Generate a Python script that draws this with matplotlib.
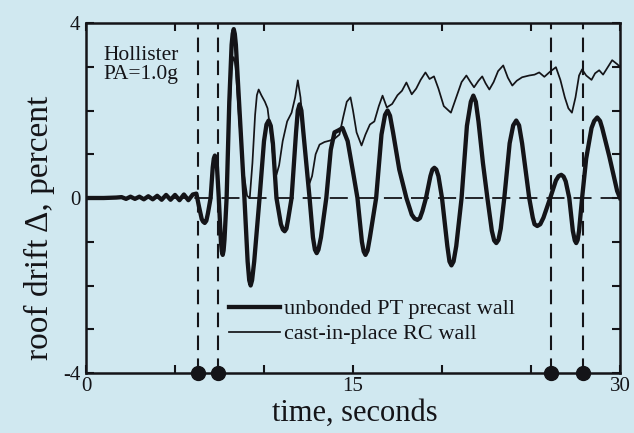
import matplotlib
matplotlib.use("Agg")
import matplotlib.pyplot as plt

# ---- data: (time s, roof drift %) ----
pt_points = [
    (0.0, 0.0), (1.0, 0.0), (1.7, 0.01), (2.0, 0.02), (2.25, -0.02), (2.5, 0.03), (2.75, -0.02),
    (3.0, 0.03), (3.25, -0.03), (3.5, 0.04), (3.75, -0.03), (4.0, 0.05), (4.25, -0.04),
    (4.5, 0.07), (4.75, -0.04), (5.0, 0.07), (5.25, -0.05), (5.5, 0.08), (5.75, -0.05),
    (6.0, 0.08), (6.2, 0.1), (6.35, -0.2), (6.5, -0.48), (6.58, -0.54), (6.67, -0.57),
    (6.76, -0.52), (6.85, -0.35), (7.0, 0.0), (7.12, 0.7), (7.18, 0.9), (7.24, 0.97),
    (7.30, 0.9), (7.36, 0.7), (7.46, 0.0), (7.58, -1.0), (7.63, -1.22), (7.68, -1.3),
    (7.73, -1.2), (7.78, -0.95), (7.9, 0.0), (8.05, 2.2), (8.18, 3.5), (8.24, 3.75),
    (8.3, 3.86), (8.36, 3.75), (8.42, 3.5), (8.6, 2.2), (8.9, 0.0), (9.08, -1.45),
    (9.17, -1.88), (9.25, -2.0), (9.33, -1.88), (9.45, -1.45), (9.75, 0.0), (10.0, 1.3),
    (10.14, 1.68), (10.26, 1.77), (10.38, 1.65), (10.5, 1.25), (10.7, 0.0), (10.95, -0.6),
    (11.06, -0.72), (11.16, -0.76), (11.26, -0.7), (11.35, -0.5), (11.55, 0.0), (11.8, 1.5),
    (11.9, 2.0), (12.0, 2.14), (12.1, 2.0), (12.2, 1.55), (12.56, 0.0), (12.75, -0.9),
    (12.86, -1.18), (12.96, -1.26), (13.06, -1.18), (13.2, -0.9), (13.5, 0.0), (13.75, 1.1),
    (13.96, 1.5), (14.2, 1.55), (14.41, 1.6), (14.7, 1.3), (15.0, 0.6), (15.25, 0.0),
    (15.5, -1.0), (15.6, -1.22), (15.7, -1.3), (15.82, -1.2), (15.95, -0.9), (16.3, 0.0),
    (16.6, 1.45), (16.8, 1.9), (16.94, 2.0), (17.08, 1.88), (17.25, 1.5), (17.6, 0.65),
    (18.0, 0.0), (18.3, -0.38), (18.46, -0.47), (18.62, -0.5), (18.76, -0.46), (18.9, -0.3),
    (19.1, 0.0), (19.35, 0.5), (19.46, 0.65), (19.57, 0.69), (19.68, 0.65), (19.8, 0.5),
    (20.0, 0.0), (20.3, -1.1), (20.42, -1.45), (20.53, -1.54), (20.65, -1.45), (20.8, -1.1),
    (21.1, 0.0), (21.4, 1.65), (21.62, 2.2), (21.76, 2.34), (21.9, 2.2), (22.05, 1.75),
    (22.3, 0.8), (22.55, 0.0), (22.8, -0.75), (22.93, -0.97), (23.05, -1.03), (23.17, -0.96),
    (23.3, -0.7), (23.5, 0.0), (23.8, 1.25), (24.0, 1.66), (24.17, 1.77), (24.33, 1.66),
    (24.5, 1.25), (24.9, 0.0), (25.1, -0.45), (25.2, -0.6), (25.35, -0.64), (25.52, -0.6),
    (25.7, -0.45), (26.08, 0.0), (26.4, 0.4), (26.55, 0.5), (26.7, 0.53), (26.83, 0.49),
    (26.95, 0.38), (27.15, 0.0), (27.35, -0.75), (27.46, -0.97), (27.54, -1.03),
    (27.62, -0.96), (27.7, -0.75), (27.87, 0.0), (28.1, 0.9), (28.4, 1.6), (28.55, 1.76),
    (28.72, 1.84), (28.88, 1.76), (29.0, 1.6), (29.4, 0.95), (29.84, 0.16), (30.0, 0.0),
]

rc_points = [
    (0.0, 0.0), (1.0, 0.0), (1.7, 0.01), (2.0, 0.02), (2.25, -0.02), (2.5, 0.03), (2.75, -0.02),
    (3.0, 0.03), (3.25, -0.03), (3.5, 0.04), (3.75, -0.03), (4.0, 0.05), (4.25, -0.04),
    (4.5, 0.07), (4.75, -0.04), (5.0, 0.07), (5.25, -0.05), (5.5, 0.08), (5.75, -0.05),
    (6.0, 0.08), (6.2, 0.1), (6.35, -0.2), (6.5, -0.48), (6.58, -0.54), (6.67, -0.57),
    (6.76, -0.52), (6.85, -0.35), (7.0, 0.0), (7.12, 0.7), (7.18, 0.9), (7.24, 0.97),
    (7.30, 0.9), (7.36, 0.7), (7.46, 0.0), (7.58, -1.0), (7.63, -1.22), (7.68, -1.3),
    (7.73, -1.2), (7.78, -0.95), (7.9, 0.0), (8.05, 1.8), (8.18, 2.9), (8.24, 3.12),
    (8.3, 3.22), (8.36, 3.12), (8.42, 2.9), (8.6, 1.8), (8.85, 0.6), (9.05, 0.05),
    (9.2, 0.0), (9.35, 0.8), (9.5, 1.9), (9.6, 2.35), (9.7, 2.48), (9.85, 2.35), (10.05, 2.2),
    (10.2, 2.05), (10.4, 1.4), (10.55, 0.8), (10.7, 0.53), (10.85, 0.75), (11.05, 1.3),
    (11.3, 1.75), (11.55, 1.95), (11.75, 2.3), (11.9, 2.69), (12.05, 2.3), (12.25, 1.3),
    (12.45, 0.5), (12.56, 0.34), (12.7, 0.5), (12.9, 1.0), (13.12, 1.22), (13.4, 1.28),
    (13.68, 1.31), (13.95, 1.35), (14.24, 1.45), (14.45, 1.85), (14.65, 2.2), (14.86, 2.3),
    (15.0, 2.0), (15.2, 1.5), (15.48, 1.2), (15.7, 1.45), (15.95, 1.68), (16.2, 1.75),
    (16.45, 2.1), (16.66, 2.34), (16.9, 2.07), (17.2, 2.15), (17.5, 2.35), (17.75, 2.45),
    (18.0, 2.64), (18.3, 2.37), (18.55, 2.5), (18.8, 2.7), (19.07, 2.87), (19.3, 2.72),
    (19.55, 2.78), (19.8, 2.5), (20.1, 2.1), (20.5, 1.95), (20.8, 2.3), (21.1, 2.65),
    (21.37, 2.8), (21.6, 2.65), (21.8, 2.53), (22.05, 2.68), (22.26, 2.78), (22.45, 2.62),
    (22.66, 2.48), (22.9, 2.65), (23.15, 2.9), (23.44, 3.03), (23.7, 2.75), (23.95, 2.57),
    (24.2, 2.68), (24.5, 2.76), (24.9, 2.8), (25.2, 2.82), (25.46, 2.87), (25.75, 2.77),
    (26.05, 2.88), (26.4, 2.99), (26.65, 2.7), (26.9, 2.3), (27.1, 2.05), (27.3, 1.95),
    (27.5, 2.3), (27.7, 2.8), (27.87, 2.94), (28.1, 2.8), (28.4, 2.7), (28.6, 2.85),
    (28.83, 2.92), (29.05, 2.82), (29.25, 2.95), (29.56, 3.15), (29.84, 3.06), (30.0, 3.0),
]

event_times = [6.28, 7.4, 26.1, 27.9]
x_ticks = [0, 5, 10, 15, 20, 25, 30]
x_tick_labels = ["0", "", "", "15", "", "", "30"]
y_ticks = [-4, -3, -2, -1, 0, 1, 2, 3, 4]
y_tick_labels = ["-4", "", "", "", "0", "", "", "", "4"]
series_labels = ["unbonded PT precast wall", "cast-in-place RC wall"]

pt_time, pt_drift = zip(*pt_points)
rc_time, rc_drift = zip(*rc_points)

# ---- style ----
BG = "#d0e8f0"
INK = "#141418"
plt.rcParams["font.family"] = ["Liberation Serif", "DejaVu Serif"]

fig = plt.figure(figsize=(6.34, 4.33), dpi=100, facecolor=BG)
ax = fig.add_axes([86 / 634, (433 - 373) / 433, 534 / 634, 350 / 433])
ax.set_facecolor(BG)

ax.axhline(0, color=INK, lw=1.3, dashes=(10, 5), zorder=1)
for t in event_times:
    ax.axvline(t, color=INK, lw=1.5, dashes=(7, 4), zorder=1)
ax.plot(event_times, [-4] * len(event_times), "o", color=INK, ms=10, clip_on=False, zorder=5)

l1, = ax.plot(pt_time, pt_drift, color=INK, lw=3.1, solid_joinstyle="round", zorder=3)
l2, = ax.plot(rc_time, rc_drift, color=INK, lw=1.25, solid_joinstyle="round", zorder=4)

ax.set_xlim(0, 30)
ax.set_ylim(-4, 4)
ax.set_xticks(x_ticks)
ax.set_xticklabels(x_tick_labels)
ax.set_yticks(y_ticks)
ax.set_yticklabels(y_tick_labels)
ax.tick_params(direction="in", top=True, right=True, length=6, width=1.5,
               labelsize=15, colors=INK, pad=4)
ax.tick_params(axis="x", pad=3)
for s in ax.spines.values():
    s.set_linewidth(1.8)
    s.set_color(INK)

ax.set_xlabel("time, seconds", fontsize=22, color=INK)
ax.set_ylabel("roof drift Δ, percent", fontsize=24, color=INK)
ax.xaxis.set_label_coords(0.504, -0.075)
ax.yaxis.set_label_coords(-0.058, 0.415)

ax.text(0.032, 0.935, "Hollister\nPA=1.0g", transform=ax.transAxes, fontsize=15.5,
        color=INK, va="top", ha="left", linespacing=1.05)

leg = ax.legend([l1, l2], series_labels, loc="upper left", bbox_to_anchor=(0.268, 0.212),
                frameon=False, fontsize=16, handlelength=2.3, handletextpad=0.15,
                labelspacing=0.2, borderpad=0, borderaxespad=0)
for txt in leg.get_texts():
    txt.set_color(INK)

fig.savefig("out.png", dpi=100, facecolor=BG)
